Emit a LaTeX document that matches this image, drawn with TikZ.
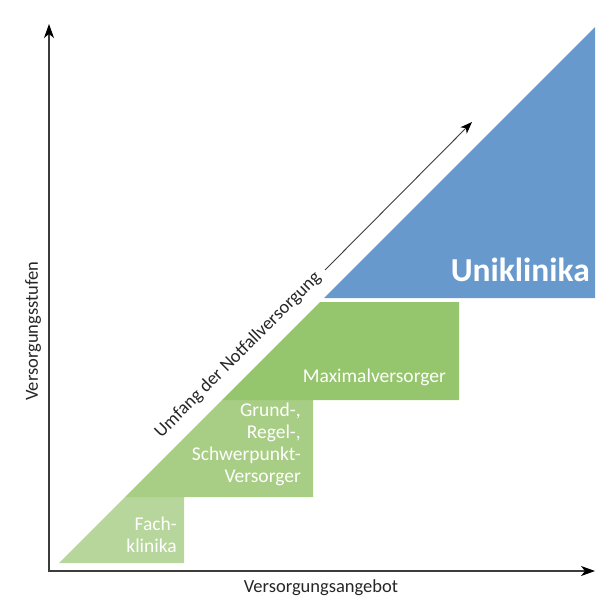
\documentclass[tikz,border=0pt]{standalone}
\usepackage{fontspec}
\setmainfont{Carlito}
\usetikzlibrary{arrows.meta}
\definecolor{fachgreen}{RGB}{183,214,156}
\definecolor{grundgreen}{RGB}{168,206,133}
\definecolor{maxgreen}{RGB}{149,197,108}
\definecolor{uniblue}{RGB}{103,153,204}
\definecolor{axisgray}{RGB}{60,60,60}
\begin{document}
\begin{tikzpicture}[x=1pt,y=-1pt,
  axisline/.style={draw=axisgray, line width=1.3pt,
    arrows={Stealth[length=14pt,width=10pt,inset=4pt,color=black]-Stealth[length=14pt,width=10pt,inset=4pt,color=black]}},
  trendline/.style={draw=axisgray, line width=0.9pt,
    -{Stealth[length=12pt,width=9pt,inset=3.5pt,color=black]}},
  stage/.style={anchor=east, align=right, inner sep=0pt, text=white,
    font=\fontsize{19.5}{22}\selectfont},
  axislabel/.style={inner sep=0pt, text=black!85, font=\fontsize{18.5}{21}\selectfont}]
\useasboundingbox (0,0) rectangle (595,599);

% stepped areas under the common diagonal
\fill[fachgreen]  (59,563) -- (125,497) -- (184,497) -- (184,563) -- cycle;
\fill[grundgreen] (125,497) -- (222,400) -- (313,400) -- (313,497) -- cycle;
\fill[maxgreen]   (222,400) -- (320,302) -- (459,302) -- (459,400) -- cycle;
\fill[uniblue]    (324,298) -- (595,27) -- (595,298) -- cycle;

% stage labels
\node[stage] (fach) at (177,535) {Fach-\\klinika};
\node[stage] (grund) at (301,444) {Grund-,\\Regel-,\\Schwerpunkt-\\Versorger};
\node[stage] (maxv) at (446,377) {Maximalversorger};
\node[stage, font=\fontsize{33.5}{36}\selectfont\bfseries] (uni) at (590,270) {Uniklinika};

% axes
\coordinate (ytop) at (49,24);
\coordinate (origin) at (49,571);
\coordinate (xend) at (595,571);
\draw[axisline] (ytop) -- (origin) -- (xend);
\node[axislabel, rotate=90] (ylab) at (33,331) {Versorgungsstufen};
\node[axislabel] (xlab) at (321,588) {Versorgungsangebot};

% emergency care scope
\node[axislabel, rotate=45, anchor=center] (notf) at (238,355) {Umfang der Notfallversorgung};
\coordinate (ntail) at (325,270);
\coordinate (nhead) at (472,122);
\draw[trendline] (ntail) -- (nhead);
\end{tikzpicture}
\end{document}
